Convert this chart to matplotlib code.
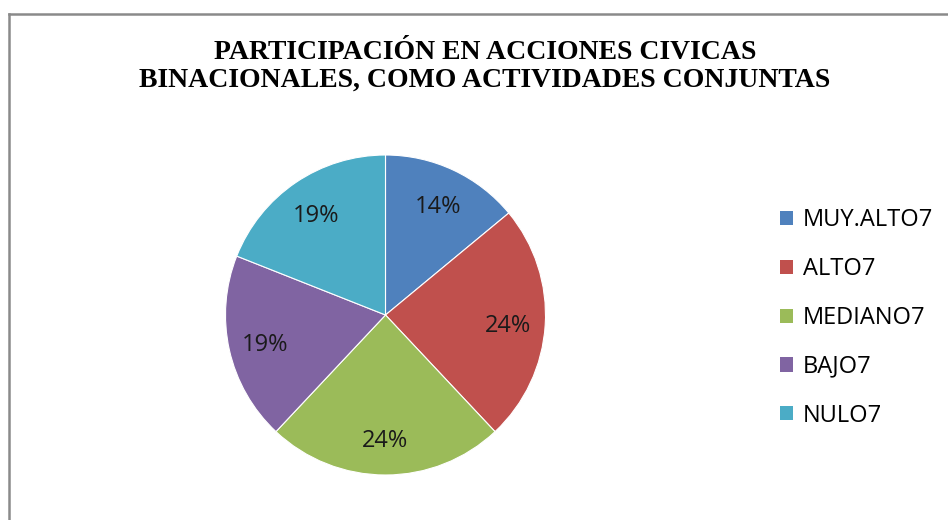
import matplotlib
matplotlib.use("Agg")
import matplotlib.pyplot as plt
import matplotlib.transforms as mtransforms
from matplotlib.lines import Line2D
from matplotlib.patches import Patch

categories = ["MUY.ALTO7", "ALTO7", "MEDIANO7", "BAJO7", "NULO7"]
values = [14, 24, 24, 19, 19]
colors = ["#4F81BD", "#C0504D", "#9BBB59", "#8064A2", "#4BACC6"]
title = "PARTICIPACIÓN EN ACCIONES CIVICAS\nBINACIONALES, COMO ACTIVIDADES CONJUNTAS"

W, H = 948, 520
fig = plt.figure(figsize=(W / 100, H / 100), dpi=100)

# chart border (partially visible: left and top)
fig.add_artist(Line2D([9 / W, 9 / W], [0, 1 - 13.5 / H], transform=fig.transFigure,
                      color="#8a8a8a", lw=1.8))
fig.add_artist(Line2D([9 / W, 1], [1 - 13.5 / H, 1 - 13.5 / H], transform=fig.transFigure,
                      color="#8a8a8a", lw=1.8))

cx, cy, r = 385.5, 315, 160
ax = fig.add_axes([(cx - r) / W, (H - cy - r) / H, 2 * r / W, 2 * r / H])
wedges, _, autotexts = ax.pie(values, colors=colors, startangle=90, counterclock=False,
                              autopct=lambda p: f"{p:.0f}%", pctdistance=0.77,
                              wedgeprops=dict(edgecolor="white", linewidth=0.8),
                              textprops=dict(fontsize=17, family="Open Sans", color="#1a1a1a"))
shift = mtransforms.offset_copy(ax.transData, fig=fig, x=0, y=-3, units="dots")
for t in autotexts:
    t.set_transform(shift)
ax.set_xlim(-1, 1)
ax.set_ylim(-1, 1)
ax.set_aspect("equal")
ax.axis("off")

fig.text(485 / W, 1 - 66 / H, title, ha="center", va="center", fontsize=20,
         fontweight="bold", family="Liberation Serif", linespacing=1.15)

handles = [Patch(facecolor=c, edgecolor="none") for c in colors]
fig.legend(handles, categories, loc="upper left", bbox_to_anchor=(771 / W, 1 - 199 / H),
           frameon=False, handlelength=0.55, handleheight=0.55,
           handletextpad=0.4, labelspacing=1.05, borderaxespad=0,
           prop=dict(family="Open Sans", size=17))

fig.savefig("out.png", dpi=100, facecolor="white")
